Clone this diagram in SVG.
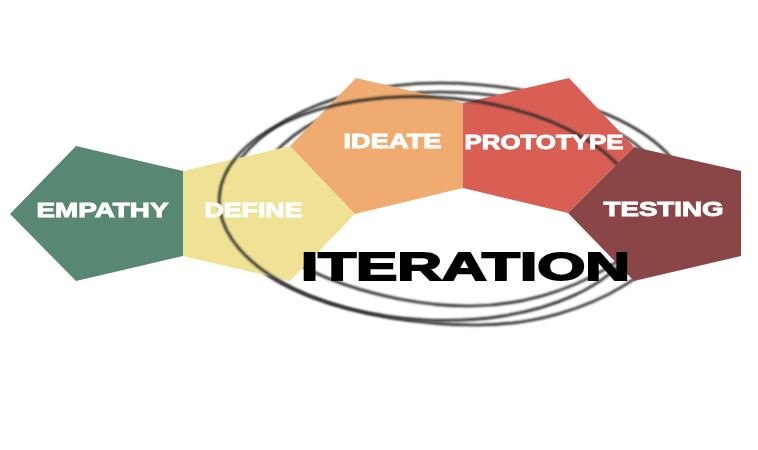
<svg xmlns="http://www.w3.org/2000/svg" width="758" height="450" viewBox="0 0 758 450">
<style>
.n{stroke:none}
.t{font-family:"Liberation Sans",Arial,sans-serif;font-weight:700;fill:#fff;font-size:19.5px;stroke:#fff;stroke-width:.9px}
.r{fill:none;stroke:#2a2a2a;stroke-width:2.6}
.big{font-size:39px;fill:#000;stroke:#000;stroke-width:1.8px}
</style>
<defs>
<filter id="b" filterUnits="userSpaceOnUse" x="150" y="50" width="600" height="320"><feGaussianBlur stdDeviation="1"/></filter>
<filter id="s" filterUnits="userSpaceOnUse" x="0" y="50" width="758" height="320"><feGaussianBlur stdDeviation="0.4"/></filter>
</defs>
<rect width="758" height="450" fill="#fff"/>
<g id="connectors" filter="url(#b)">
<path class="r" d="M224 205C224 140 320 83 440 83C560 83 688 130 688 200C688 260 590 325 478 325C370 325 224 290 224 205Z"/>
<path class="r" d="M252 205C252 150 330 92 440 92C540 92 665 130 665 195C665 245 570 306 470 306C380 306 252 265 252 205Z"/>
</g>
<g filter="url(#s)">
<g id="empathy"><polygon class="n" fill="#588873" points="10,214 76,146 183,171 183,256 76,281"/></g>
<g id="define"><polygon class="n" fill="#F0E294" points="183,171 290,146 355,214 290,281 183,256"/></g>
<g id="ideate"><polygon class="n" fill="#F0AC6F" points="290,146 356,78 463,103 463,188 355,214"/></g>
<g id="prototype"><polygon class="n" fill="#D95F55" points="463,103 569,78 634,147 568,213 463,188"/></g>
</g>
<g id="front-ring" filter="url(#b)">
<ellipse class="r" cx="430" cy="208.500" rx="211" ry="111.500" transform="rotate(3 430 208.500)"/>
</g>
<g filter="url(#s)">
<g id="testing"><polygon class="n" fill="#8A4546" points="634,147 741,171 741,256 634,281 568,213"/>
<text class="t" x="603.500" y="216" textLength="120" lengthAdjust="spacingAndGlyphs">TESTING</text></g>
<text class="t" x="36.500" y="217" textLength="132" lengthAdjust="spacingAndGlyphs">EMPATHY</text>
<text class="t" x="204.500" y="217" textLength="98" lengthAdjust="spacingAndGlyphs">DEFINE</text>
<text class="t" x="343.500" y="148" textLength="98" lengthAdjust="spacingAndGlyphs">IDEATE</text>
<text class="t" x="464.500" y="149" textLength="159" lengthAdjust="spacingAndGlyphs">PROTOTYPE</text>
<text id="iteration" class="t big" x="301" y="279.500" textLength="329" lengthAdjust="spacingAndGlyphs">ITERATION</text>
</g>
</svg>
